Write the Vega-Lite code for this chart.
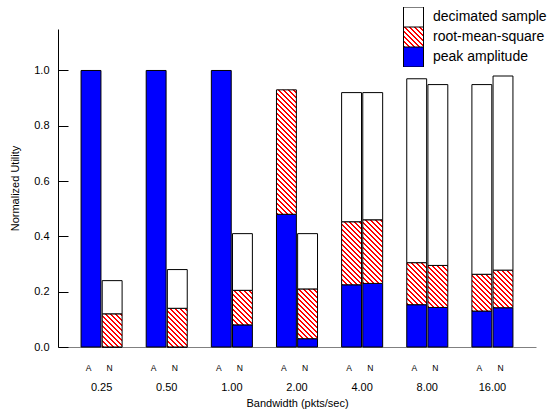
{
  "$schema": "https://vega.github.io/schema/vega-lite/v6.json",
  "width": 478,
  "height": 318,
  "autosize": "none",
  "padding": {"left": 58, "top": 29, "right": 13, "bottom": 63},
  "background": "white",
  "config": {"font": "Liberation Sans", "view": {"stroke": null}},
  "params": [
    {"name": "hatchStops", "value": [
      {"offset":0,"color":"red"},{"offset":0.0133,"color":"red"},{"offset":0.0133,"color":"white"},{"offset":0.0333,"color":"white"},
      {"offset":0.0333,"color":"red"},{"offset":0.0467,"color":"red"},{"offset":0.0467,"color":"white"},{"offset":0.0667,"color":"white"},
      {"offset":0.0667,"color":"red"},{"offset":0.08,"color":"red"},{"offset":0.08,"color":"white"},{"offset":0.1,"color":"white"},
      {"offset":0.1,"color":"red"},{"offset":0.1133,"color":"red"},{"offset":0.1133,"color":"white"},{"offset":0.1333,"color":"white"},
      {"offset":0.1333,"color":"red"},{"offset":0.1467,"color":"red"},{"offset":0.1467,"color":"white"},{"offset":0.1667,"color":"white"},
      {"offset":0.1667,"color":"red"},{"offset":0.18,"color":"red"},{"offset":0.18,"color":"white"},{"offset":0.2,"color":"white"},
      {"offset":0.2,"color":"red"},{"offset":0.2133,"color":"red"},{"offset":0.2133,"color":"white"},{"offset":0.2333,"color":"white"},
      {"offset":0.2333,"color":"red"},{"offset":0.2467,"color":"red"},{"offset":0.2467,"color":"white"},{"offset":0.2667,"color":"white"},
      {"offset":0.2667,"color":"red"},{"offset":0.28,"color":"red"},{"offset":0.28,"color":"white"},{"offset":0.3,"color":"white"},
      {"offset":0.3,"color":"red"},{"offset":0.3133,"color":"red"},{"offset":0.3133,"color":"white"},{"offset":0.3333,"color":"white"},
      {"offset":0.3333,"color":"red"},{"offset":0.3467,"color":"red"},{"offset":0.3467,"color":"white"},{"offset":0.3667,"color":"white"},
      {"offset":0.3667,"color":"red"},{"offset":0.38,"color":"red"},{"offset":0.38,"color":"white"},{"offset":0.4,"color":"white"},
      {"offset":0.4,"color":"red"},{"offset":0.4133,"color":"red"},{"offset":0.4133,"color":"white"},{"offset":0.4333,"color":"white"},
      {"offset":0.4333,"color":"red"},{"offset":0.4467,"color":"red"},{"offset":0.4467,"color":"white"},{"offset":0.4667,"color":"white"},
      {"offset":0.4667,"color":"red"},{"offset":0.48,"color":"red"},{"offset":0.48,"color":"white"},{"offset":0.5,"color":"white"},
      {"offset":0.5,"color":"red"},{"offset":0.5133,"color":"red"},{"offset":0.5133,"color":"white"},{"offset":0.5333,"color":"white"},
      {"offset":0.5333,"color":"red"},{"offset":0.5467,"color":"red"},{"offset":0.5467,"color":"white"},{"offset":0.5667,"color":"white"},
      {"offset":0.5667,"color":"red"},{"offset":0.58,"color":"red"},{"offset":0.58,"color":"white"},{"offset":0.6,"color":"white"},
      {"offset":0.6,"color":"red"},{"offset":0.6133,"color":"red"},{"offset":0.6133,"color":"white"},{"offset":0.6333,"color":"white"},
      {"offset":0.6333,"color":"red"},{"offset":0.6467,"color":"red"},{"offset":0.6467,"color":"white"},{"offset":0.6667,"color":"white"},
      {"offset":0.6667,"color":"red"},{"offset":0.68,"color":"red"},{"offset":0.68,"color":"white"},{"offset":0.7,"color":"white"},
      {"offset":0.7,"color":"red"},{"offset":0.7133,"color":"red"},{"offset":0.7133,"color":"white"},{"offset":0.7333,"color":"white"},
      {"offset":0.7333,"color":"red"},{"offset":0.7467,"color":"red"},{"offset":0.7467,"color":"white"},{"offset":0.7667,"color":"white"},
      {"offset":0.7667,"color":"red"},{"offset":0.78,"color":"red"},{"offset":0.78,"color":"white"},{"offset":0.8,"color":"white"},
      {"offset":0.8,"color":"red"},{"offset":0.8133,"color":"red"},{"offset":0.8133,"color":"white"},{"offset":0.8333,"color":"white"},
      {"offset":0.8333,"color":"red"},{"offset":0.8467,"color":"red"},{"offset":0.8467,"color":"white"},{"offset":0.8667,"color":"white"},
      {"offset":0.8667,"color":"red"},{"offset":0.88,"color":"red"},{"offset":0.88,"color":"white"},{"offset":0.9,"color":"white"},
      {"offset":0.9,"color":"red"},{"offset":0.9133,"color":"red"},{"offset":0.9133,"color":"white"},{"offset":0.9333,"color":"white"},
      {"offset":0.9333,"color":"red"},{"offset":0.9467,"color":"red"},{"offset":0.9467,"color":"white"},{"offset":0.9667,"color":"white"},
      {"offset":0.9667,"color":"red"},{"offset":0.98,"color":"red"},{"offset":0.98,"color":"white"},{"offset":1,"color":"white"}
    ]}
  ],
  "data": {"values": [
    {"group": "0.25", "letter": "A", "series": "peak amplitude", "value": 1.0},
    {"group": "0.25", "letter": "N", "series": "peak amplitude", "value": 0},
    {"group": "0.25", "letter": "N", "series": "root-mean-square", "value": 0.12},
    {"group": "0.25", "letter": "N", "series": "decimated sample", "value": 0.12},
    {"group": "0.50", "letter": "A", "series": "peak amplitude", "value": 1.0},
    {"group": "0.50", "letter": "N", "series": "peak amplitude", "value": 0},
    {"group": "0.50", "letter": "N", "series": "root-mean-square", "value": 0.14},
    {"group": "0.50", "letter": "N", "series": "decimated sample", "value": 0.14},
    {"group": "1.00", "letter": "A", "series": "peak amplitude", "value": 1.0},
    {"group": "1.00", "letter": "N", "series": "peak amplitude", "value": 0.08},
    {"group": "1.00", "letter": "N", "series": "root-mean-square", "value": 0.125},
    {"group": "1.00", "letter": "N", "series": "decimated sample", "value": 0.205},
    {"group": "2.00", "letter": "A", "series": "peak amplitude", "value": 0.48},
    {"group": "2.00", "letter": "A", "series": "root-mean-square", "value": 0.45},
    {"group": "2.00", "letter": "N", "series": "peak amplitude", "value": 0.03},
    {"group": "2.00", "letter": "N", "series": "root-mean-square", "value": 0.18},
    {"group": "2.00", "letter": "N", "series": "decimated sample", "value": 0.2},
    {"group": "4.00", "letter": "A", "series": "peak amplitude", "value": 0.225},
    {"group": "4.00", "letter": "A", "series": "root-mean-square", "value": 0.228},
    {"group": "4.00", "letter": "A", "series": "decimated sample", "value": 0.467},
    {"group": "4.00", "letter": "N", "series": "peak amplitude", "value": 0.23},
    {"group": "4.00", "letter": "N", "series": "root-mean-square", "value": 0.23},
    {"group": "4.00", "letter": "N", "series": "decimated sample", "value": 0.46},
    {"group": "8.00", "letter": "A", "series": "peak amplitude", "value": 0.153},
    {"group": "8.00", "letter": "A", "series": "root-mean-square", "value": 0.152},
    {"group": "8.00", "letter": "A", "series": "decimated sample", "value": 0.665},
    {"group": "8.00", "letter": "N", "series": "peak amplitude", "value": 0.143},
    {"group": "8.00", "letter": "N", "series": "root-mean-square", "value": 0.152},
    {"group": "8.00", "letter": "N", "series": "decimated sample", "value": 0.654},
    {"group": "16.00", "letter": "A", "series": "peak amplitude", "value": 0.13},
    {"group": "16.00", "letter": "A", "series": "root-mean-square", "value": 0.133},
    {"group": "16.00", "letter": "A", "series": "decimated sample", "value": 0.686},
    {"group": "16.00", "letter": "N", "series": "peak amplitude", "value": 0.142},
    {"group": "16.00", "letter": "N", "series": "root-mean-square", "value": 0.136},
    {"group": "16.00", "letter": "N", "series": "decimated sample", "value": 0.702}
  ]},
  "transform": [
    {"stack": "value", "groupby": ["group", "letter"], "as": ["lo", "hi"]}
  ],
  "encoding": {
    "x": {
      "field": "group", "type": "nominal", "sort": null,
      "scale": {"paddingInner": 0.37, "paddingOuter": 0.354},
      "axis": {
        "title": "Bandwidth (pkts/sec)", "labelAngle": 0, "ticks": false,
        "labelPadding": 34, "labelFontSize": 11, "labelColor": "black",
        "titleFontSize": 11, "titleFontWeight": "normal", "titleColor": "black", "titlePadding": 5,
        "domainColor": "#808080", "domainWidth": 1
      }
    },
    "xOffset": {"field": "letter", "type": "nominal", "scale": {"paddingInner": 0.06, "paddingOuter": 0}}
  },
  "layer": [
    {
      "mark": {"type": "bar", "stroke": "black", "strokeWidth": 1},
      "encoding": {
        "y": {
          "field": "hi", "type": "quantitative",
          "scale": {"domain": [0, 1.15], "nice": false},
          "axis": {
            "title": "Normalized Utility", "values": [0, 0.2, 0.4, 0.6, 0.8, 1.0], "format": ".1f",
            "grid": false, "tickSize": -10, "tickColor": "black", "labelPadding": 19,
            "domainColor": "black", "labelFontSize": 11, "labelColor": "black",
            "titleFontSize": 11, "titleFontWeight": "normal", "titleColor": "black", "titlePadding": 13
          }
        },
        "y2": {"field": "lo"},
        "fill": {
          "field": "series", "type": "nominal",
          "scale": {
            "domain": ["decimated sample", "root-mean-square", "peak amplitude"],
            "range": ["white", {"expr": "{gradient: 'linear', x1: 0, y1: 1, x2: 3.75, y2: -2.75, stops: hatchStops}"}, "blue"]
          },
          "legend": {
            "title": null, "orient": "none", "legendX": 345, "legendY": -22,
            "symbolType": "square", "symbolSize": 400, "symbolStrokeColor": "black", "symbolStrokeWidth": 1,
            "labelFontSize": 14, "labelOffset": 9, "labelColor": "black",
            "clipHeight": 20, "rowPadding": 0, "padding": 0
          },
          "condition": {
            "test": "datum.series === 'root-mean-square'",
            "value": {"expr": "{gradient: 'linear', x1: 0, y1: 1, x2: 150*bandwidth('xOffset')/(pow(bandwidth('xOffset'),2)+pow(scale('y',datum.lo)-scale('y',datum.hi),2)), y2: 1-150*(scale('y',datum.lo)-scale('y',datum.hi))/(pow(bandwidth('xOffset'),2)+pow(scale('y',datum.lo)-scale('y',datum.hi),2)), stops: hatchStops}"}
          }
        }
      }
    },
    {
      "transform": [{"filter": "datum.series === 'peak amplitude'"}],
      "mark": {"type": "text", "fontSize": 8.5, "baseline": "middle", "color": "black", "dx": -2.5},
      "encoding": {
        "y": {"datum": -0.077},
        "text": {"field": "letter"}
      }
    }
  ]
}
